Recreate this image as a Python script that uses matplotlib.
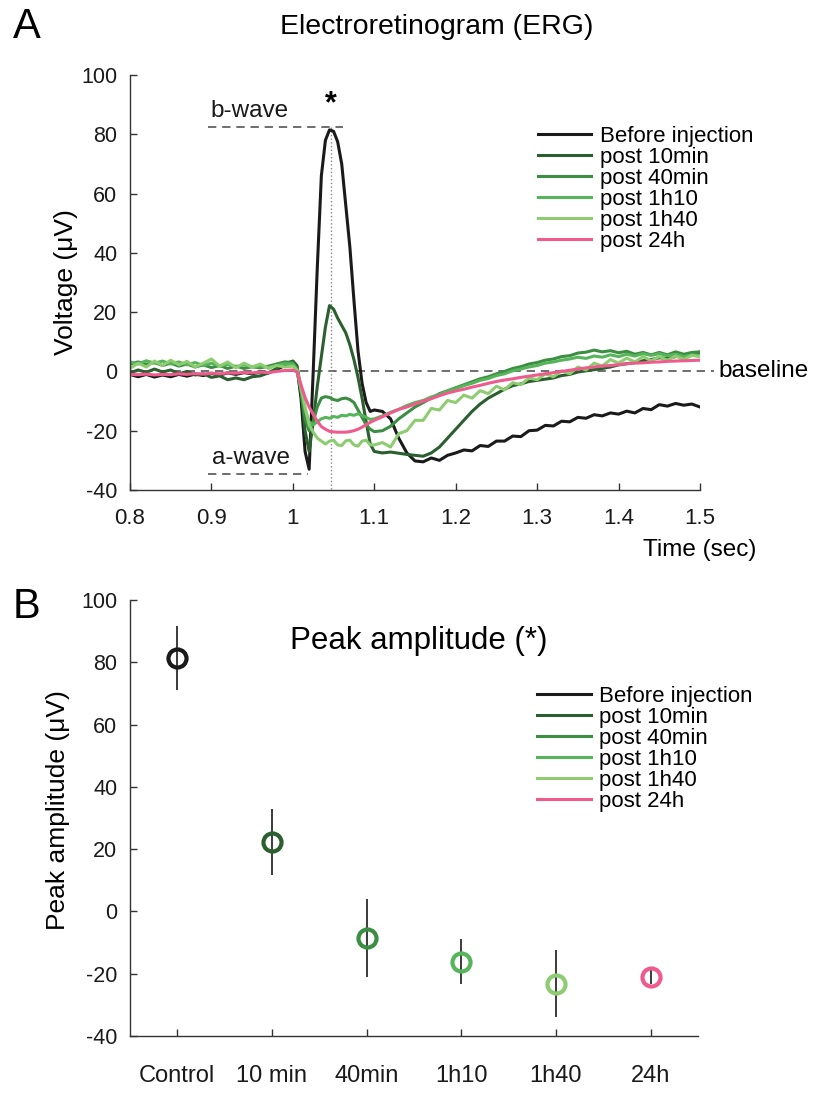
import matplotlib
matplotlib.use('Agg')
import matplotlib.pyplot as plt
from matplotlib.lines import Line2D

plt.rcParams['font.family'] = ['Liberation Sans', 'DejaVu Sans']
plt.rcParams['axes.unicode_minus'] = False

# ----------------------------------------------------
# Data: averaged ERG traces
# ----------------------------------------------------
TIME = [0.80, 0.81, 0.82, 0.83, 0.84, 0.85, 0.86, 0.87, 0.88, 0.89,
        0.90, 0.91, 0.92, 0.93, 0.94, 0.95, 0.96, 0.97, 0.98, 0.99,
        1.000, 1.005, 1.010, 1.015, 1.020, 1.025, 1.030, 1.035, 1.040, 1.045,
        1.050, 1.055, 1.060, 1.065, 1.070, 1.075, 1.080, 1.085, 1.090, 1.095,
        1.100, 1.11, 1.12, 1.13, 1.14, 1.15, 1.16, 1.17, 1.18, 1.19,
        1.20, 1.21, 1.22, 1.23, 1.24, 1.25, 1.26, 1.27, 1.28, 1.29,
        1.30, 1.31, 1.32, 1.33, 1.34, 1.35, 1.36, 1.37, 1.38, 1.39,
        1.40, 1.41, 1.42, 1.43, 1.44, 1.45, 1.46, 1.47, 1.48, 1.49, 1.50]

V_BEFORE = [-1.0, -1.8, -1.0, -1.9, -1.2, -1.8, -1.0, -1.6, -0.9, -1.4,
            -0.6, -1.2, -0.5, -1.0, -0.4, -0.8, -0.2, -0.5, 0.6, 2.0,
            3.4, 1.5, -9.0, -27.0, -33.0, 0.0, 35.0, 66.0, 78.0, 81.5,
            81.0, 77.5, 70.0, 56.0, 42.0, 24.0, 7.0, -4.0, -10.5, -13.5,
            -13.0, -13.5, -16.0, -22.5, -27.5, -30.2, -30.5, -29.2, -30.0, -28.3,
            -27.5, -26.5, -26.8, -25.0, -25.3, -23.5, -23.5, -21.8, -22.0, -20.0,
            -19.8, -18.2, -18.4, -16.8, -17.0, -15.5, -15.8, -14.6, -15.0, -14.0,
            -14.4, -13.4, -14.0, -12.5, -12.9, -11.2, -11.7, -10.8, -11.4, -11.0, -12.0]

V_10MIN = [-0.5, 0.5, -0.3, 0.8, -0.2, 0.5, -0.8, 0.0, -1.2, -0.8,
           -2.0, -1.5, -2.8, -2.2, -2.8, -1.8, -1.5, -0.5, 1.0, 2.5,
           3.5, 2.0, -6.0, -20.0, -27.0, -17.0, -5.0, 5.0, 15.0, 22.2,
           21.0, 18.0, 15.5, 13.0, 9.0, 4.0, -2.0, -9.0, -17.0, -24.5,
           -27.0, -27.5, -27.2, -27.6, -28.0, -28.3, -28.6, -27.5, -25.5, -22.5,
           -19.5, -16.5, -13.5, -11.0, -9.0, -7.5, -6.0, -4.8, -4.2, -3.4,
           -3.0, -2.6, -2.2, -1.4, -1.0, -0.2, 0.2, 0.6, 1.0, 1.5,
           2.2, 2.6, 3.0, 3.6, 4.0, 4.6, 4.4, 5.0, 5.6, 5.8, 6.5]

V_40MIN = [2.5, 3.2, 2.4, 3.0, 2.0, 2.8, 1.8, 2.5, 1.5, 2.2,
           1.3, 2.0, 1.0, 1.8, 1.0, 1.6, 1.2, 1.8, 2.5, 3.2,
           3.0, 1.0, -7.0, -16.0, -20.0, -17.0, -12.0, -9.0, -8.5, -8.8,
           -9.5, -9.8, -9.2, -9.0, -9.5, -10.5, -13.0, -15.5, -18.0, -19.5,
           -20.3, -20.0, -18.5, -16.0, -14.0, -12.0, -10.5, -9.0, -7.5, -6.5,
           -5.5, -4.5, -3.5, -2.5, -1.8, -0.8, 0.0, 1.0, 1.6, 2.5,
           3.0, 3.8, 4.2, 5.0, 5.3, 6.2, 6.5, 7.2, 6.6, 7.0,
           6.3, 6.8, 5.8, 6.4, 5.6, 6.4, 5.6, 6.6, 5.8, 6.4, 6.6]

V_1H10 = [3.2, 2.5, 3.6, 2.8, 3.5, 2.5, 3.2, 2.2, 3.0, 2.0,
          2.8, 1.8, 2.4, 1.6, 2.2, 1.5, 1.8, 1.4, 2.0, 2.6,
          2.5, 0.5, -6.0, -13.0, -17.0, -18.0, -17.0, -16.0, -15.5, -15.8,
          -15.2, -15.5, -14.8, -15.0, -14.5, -14.8, -14.3, -14.8, -15.5, -16.2,
          -16.0, -15.0, -13.8, -12.8, -11.5, -10.5, -9.8, -8.6, -7.8, -6.6,
          -5.8, -4.8, -4.0, -3.0, -2.4, -1.4, -0.8, 0.2, 0.8, 1.5,
          2.0, 2.8, 3.2, 3.8, 4.2, 4.8, 4.4, 5.2, 4.8, 5.6,
          5.0, 5.8, 5.2, 6.0, 5.4, 6.0, 5.3, 5.8, 5.0, 5.6, 5.4]

V_1H40 = [1.0, 2.8, 1.5, 3.5, 2.0, 3.8, 2.2, 3.4, 1.5, 2.8,
          4.2, 1.8, 3.2, 1.2, 2.8, 1.5, 2.5, 1.0, 2.0, 1.5,
          1.8, 0.5, -5.0, -12.0, -18.0, -20.5, -22.5, -23.5, -24.5, -23.5,
          -23.2, -24.8, -25.0, -23.4, -23.2, -24.8, -25.2, -23.5, -23.2, -24.8,
          -24.8, -24.0, -25.5, -21.0, -20.0, -16.5, -16.5, -12.5, -13.0, -9.8,
          -10.5, -8.0, -9.0, -6.5, -7.5, -5.0, -6.2, -3.8, -4.5, -2.2,
          -2.8, -0.8, -1.8, 0.2, -0.8, 1.5, 0.5, 2.8, 1.8, 4.0,
          2.8, 4.5, 3.2, 5.0, 3.6, 5.0, 3.8, 5.2, 4.0, 5.4, 5.0]

V_24H = [-1.0, -1.1, -0.9, -1.2, -1.0, -1.1, -0.8, -1.0, -0.7, -0.9,
         -0.6, -0.8, -0.5, -0.6, -0.3, -0.5, -0.2, -0.4, 0.0, 0.3,
         0.5, -0.2, -4.5, -8.8, -12.0, -14.5, -16.8, -18.6, -19.5, -20.2,
         -20.4, -20.5, -20.5, -20.5, -20.3, -20.0, -19.5, -18.8, -18.0, -17.2,
         -16.5, -15.3, -14.0, -12.8, -12.0, -11.0, -10.0, -9.2, -8.2, -7.3,
         -6.6, -6.0, -5.3, -4.7, -4.0, -3.4, -2.9, -2.5, -2.0, -1.6,
         -1.2, -0.8, -0.4, 0.0, 0.4, 0.8, 1.2, 1.5, 1.8, 2.0,
         2.3, 2.6, 2.8, 2.9, 3.1, 3.2, 3.4, 3.5, 3.6, 3.7, 3.8]

LABELS = ['Before injection', 'post 10min', 'post 40min',
          'post 1h10', 'post 1h40', 'post 24h']
COLORS = ['#1a1a1a', '#2b5f2f', '#3b8e42', '#56b55b', '#8dcc70', '#ee5b8c']

# Peak amplitude (b-wave) per condition
CATEGORIES = ['Control', '10 min', '40min', '1h10', '1h40', '24h']
PEAK_MEAN = [81.4, 22.2, -8.4, -16.1, -23.2, -20.9]
PEAK_ERR = [10.4, 10.6, 12.5, 7.2, 10.8, 2.4]

TRACES = [V_BEFORE, V_10MIN, V_40MIN, V_1H10, V_1H40, V_24H]


def style_axes(ax, xpad, xsize):
    for s in ['top', 'right']:
        ax.spines[s].set_visible(False)
    for s in ['left', 'bottom']:
        ax.spines[s].set_color('#333333')
        ax.spines[s].set_linewidth(1.0)
    ax.tick_params(direction='in', length=5, width=1, color='#333333',
                   labelsize=15.5, labelcolor='#1a1a1a')
    ax.tick_params(axis='x', pad=xpad, labelsize=xsize)
    ax.tick_params(axis='y', pad=9)


fig = plt.figure(figsize=(8.14, 10.97), dpi=100)
W, H = 814.0, 1097.0
axA = fig.add_axes([130 / W, 1 - 490 / H, 570 / W, 415 / H])
axB = fig.add_axes([130 / W, 1 - 1036 / H, 568 / W, 436 / H])

# ----------------------------------------------------
# A: Electroretinogram traces
# ----------------------------------------------------
for vals, lab, col in zip(TRACES, LABELS, COLORS):
    axA.plot(TIME, vals, color=col, lw=2.2, label=lab, solid_joinstyle='round')

i_peak = V_BEFORE.index(max(V_BEFORE))
t_peak = TIME[i_peak]
b_level = max(V_BEFORE) + 1.0
a_level = min(V_BEFORE) - 1.7
dash = (0, (5, 3.5))

axA.plot([0.8, 1.517], [0, 0], ls=dash, color='#555555', lw=1.2, clip_on=False, zorder=0)
axA.plot([0.896, t_peak + 0.016], [b_level, b_level], ls=dash, color='#555555', lw=1.2)
axA.plot([0.896, 1.018], [a_level, a_level], ls=dash, color='#555555', lw=1.2)
axA.plot([t_peak + 0.002, t_peak + 0.002], [b_level, -40], ls=':', color='#888888', lw=1.0, zorder=0)

axA.text(0.8985, b_level + 1.5, 'b-wave', fontsize=17.5, va='bottom', ha='left', color='#1a1a1a')
axA.text(0.9005, a_level + 1.8, 'a-wave', fontsize=17.5, va='bottom', ha='left', color='#1a1a1a')
axA.text(t_peak + 0.002, b_level + 2.5, '*', fontsize=22, fontweight='bold', ha='center', va='bottom')
axA.text(1.523, 0, 'baseline', fontsize=17.5, va='center', ha='left', clip_on=False)

axA.set_xlim(0.8, 1.5)
axA.set_ylim(-40, 100)
axA.set_xticks([0.8, 0.9, 1.0, 1.1, 1.2, 1.3, 1.4, 1.5])
axA.set_xticklabels(['0.8', '0.9', '1', '1.1', '1.2', '1.3', '1.4', '1.5'])
axA.set_yticks(range(-40, 101, 20))
style_axes(axA, 13, 16)

axA.text(1.0, -0.145, 'Time (sec)', transform=axA.transAxes, fontsize=17.5,
         ha='center', va='center')
axA.text(-0.112, 0.5, 'Voltage (\u03bcV)', transform=axA.transAxes, fontsize=19,
         rotation=90, ha='center', va='center')

axA.legend(loc='upper left', bbox_to_anchor=(0.716, 0.877), frameon=False,
           fontsize=16, handlelength=2.4, handletextpad=0.38,
           labelspacing=0.0, borderpad=0, borderaxespad=0)

# ----------------------------------------------------
# B: Peak amplitude at the asterisk
# ----------------------------------------------------
xpos = list(range(1, len(CATEGORIES) + 1))
axB.errorbar(xpos, PEAK_MEAN, yerr=PEAK_ERR, fmt='none', ecolor='#1a1a1a',
             elinewidth=1.2, capsize=0, zorder=2)
for x, m, col in zip(xpos, PEAK_MEAN, COLORS):
    axB.plot(x, m, 'o', ms=13, mfc='none', mec=col, mew=3.0, zorder=3)

axB.set_xlim(0.5, 6.5)
axB.set_ylim(-40, 100)
axB.set_xticks(xpos)
axB.set_xticklabels(CATEGORIES)
axB.set_yticks(range(-40, 101, 20))
style_axes(axB, 21, 17)

axB.text(-0.127, 0.518, 'Peak amplitude (\u03bcV)', transform=axB.transAxes,
         fontsize=19, rotation=90, ha='center', va='center')

handles = [Line2D([], [], color=c, lw=2.2) for c in COLORS]
axB.legend(handles, LABELS, loc='upper left', bbox_to_anchor=(0.717, 0.803),
           frameon=False, fontsize=16, handlelength=2.4, handletextpad=0.38,
           labelspacing=0.0, borderpad=0, borderaxespad=0)

# ----------------------------------------------------
# Titles and panel letters
# ----------------------------------------------------
fig.text(437 / W, 1 - 27 / H, 'Electroretinogram (ERG)', fontsize=20.5, ha='center', va='center')
fig.text(419 / W, 1 - 641 / H, 'Peak amplitude (*)', fontsize=22.5, ha='center', va='center')
fig.text(27 / W, 1 - 27 / H, 'A', fontsize=30, ha='center', va='center')
fig.text(27 / W, 1 - 607 / H, 'B', fontsize=30, ha='center', va='center')

fig.savefig('out.png', dpi=100)
